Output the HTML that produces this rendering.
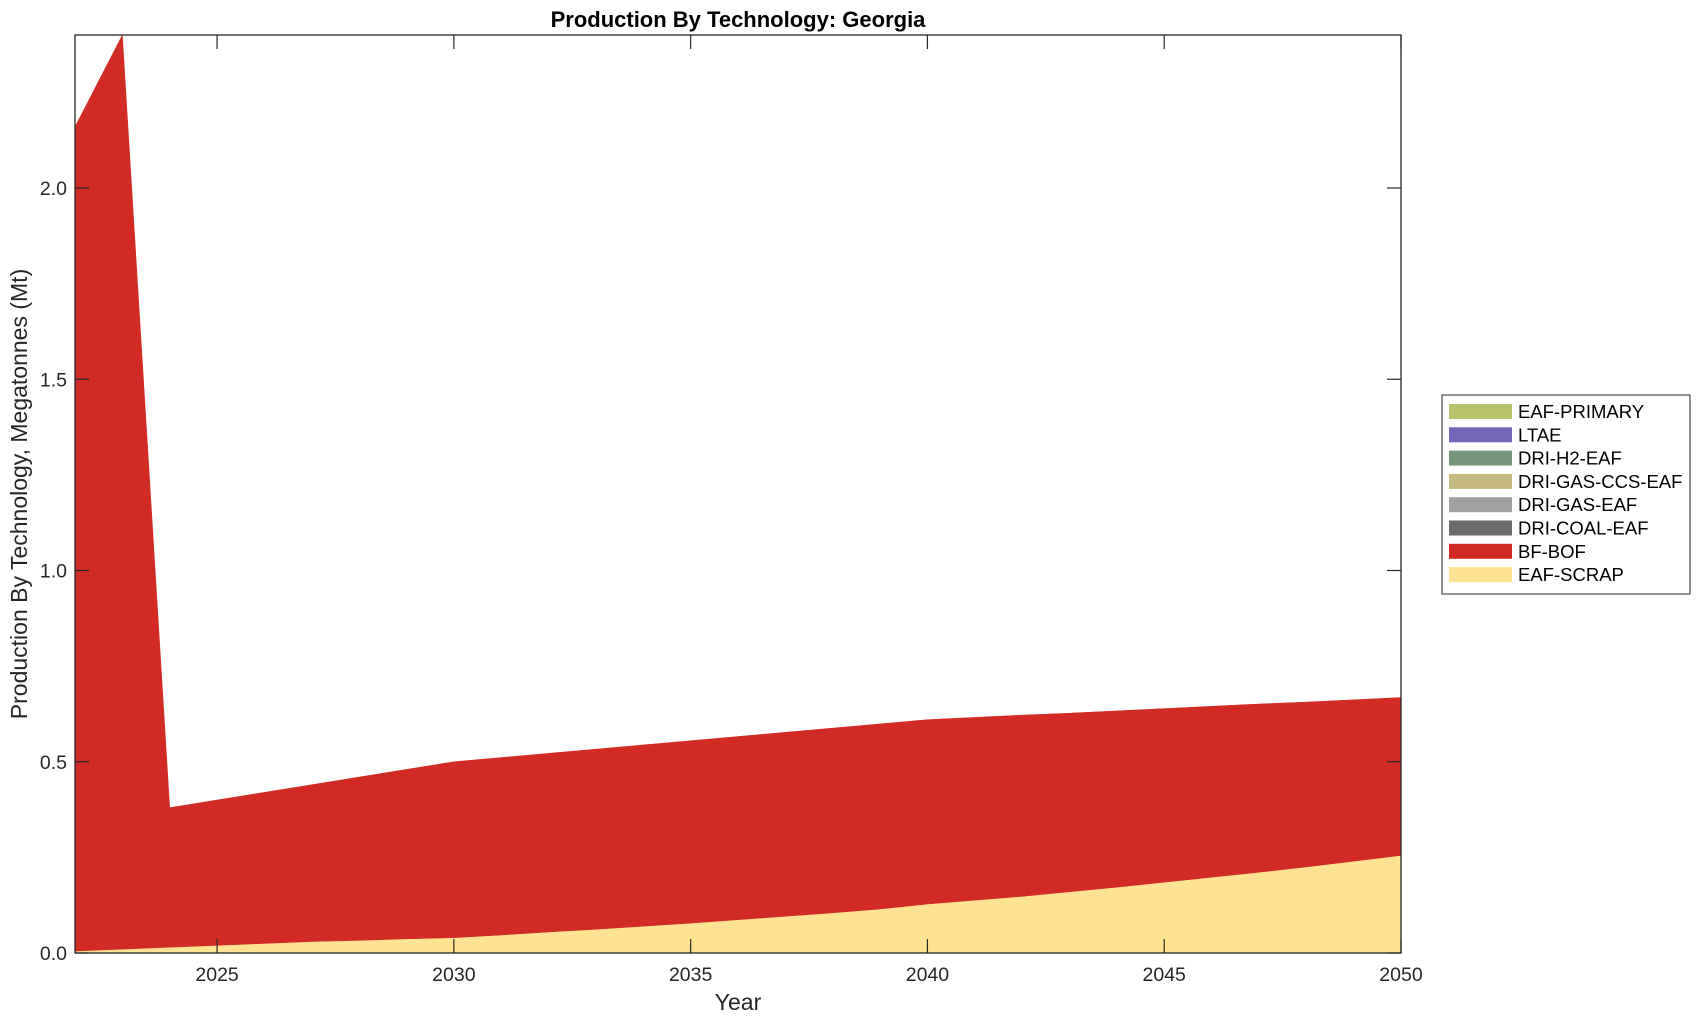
<!DOCTYPE html>
<html><head><meta charset="utf-8">
<style>
html,body{margin:0;padding:0;background:#fff;}
svg text{font-family:"Liberation Sans",Arial,sans-serif;fill:#262626;}
</style></head>
<body>
<svg id="chart" width="1703" height="1021" viewBox="0 0 1703 1021" xmlns="http://www.w3.org/2000/svg">
<text x="738" y="27" text-anchor="middle" font-size="22" font-weight="bold" style="fill:#000">Production By Technology: Georgia</text>
<g id="areas"></g>
<g id="axes"></g>
<text x="738" y="1010" text-anchor="middle" font-size="23">Year</text>
<text transform="translate(27,494) rotate(-90)" text-anchor="middle" font-size="23">Production By Technology, Megatonnes (Mt)</text>
<g id="legend"></g>
</svg>
<script>
const years = [2022,2023,2024,2025,2026,2027,2028,2029,2030,2031,2032,2033,2034,2035,2036,2037,2038,2039,2040,2041,2042,2043,2044,2045,2046,2047,2048,2049,2050];
const eafScrap = [0.005,0.01,0.015,0.02,0.025,0.03,0.033,0.037,0.04,0.047,0.055,0.062,0.07,0.078,0.087,0.096,0.105,0.115,0.128,0.138,0.148,0.16,0.172,0.185,0.198,0.211,0.225,0.24,0.255];
const bfBof = [2.155,2.39,0.365,0.38,0.395,0.41,0.427,0.443,0.46,0.464,0.467,0.471,0.474,0.477,0.479,0.481,0.483,0.484,0.482,0.478,0.474,0.467,0.461,0.454,0.447,0.44,0.431,0.422,0.413];
const yTicks = [0,0.5,1.0,1.5,2.0];
const yTickLabels = ["0.0","0.5","1.0","1.5","2.0"];
const xTicks = [2025,2030,2035,2040,2045,2050];
const legendNames = ["EAF-PRIMARY","LTAE","DRI-H2-EAF","DRI-GAS-CCS-EAF","DRI-GAS-EAF","DRI-COAL-EAF","BF-BOF","EAF-SCRAP"];
const legendColors = ["#B9C46A","#7366B8","#76977A","#C4B97E","#A0A0A0","#6B6B6B","#D22B25","#FFE392"];

const L=75,R=1401,T=35,B=953,X0=2022,X1=2050,Y1=2.4;
const xs=v=>L+(v-X0)/(X1-X0)*(R-L);
const ys=v=>B-v/Y1*(B-T);
const NS="http://www.w3.org/2000/svg";
function mk(tag,attrs,parent){const e=document.createElementNS(NS,tag);for(const k in attrs)e.setAttribute(k,attrs[k]);parent.appendChild(e);return e;}
const areas=document.getElementById('areas');
function band(lower,upper,color,name){
  let d='M'+xs(years[0])+','+ys(upper[0]);
  for(let i=1;i<years.length;i++) d+='L'+xs(years[i])+','+ys(upper[i]);
  for(let i=years.length-1;i>=0;i--) d+='L'+xs(years[i])+','+ys(lower[i]);
  const p=mk('path',{d:d+'Z',fill:color,stroke:color,'stroke-width':0.5},areas);
  
  
}
const zeros=years.map(()=>0);
const top1=eafScrap.slice();
const top2=years.map((_,i)=>eafScrap[i]+bfBof[i]);
band(zeros,top1,"#FFE392","area-eaf-scrap");
band(top1,top2,"#D22B25","area-bf-bof");

const axes=document.getElementById('axes');
mk('rect',{x:L,y:T,width:R-L,height:B-T,fill:'none',stroke:'#262626','stroke-width':1.3},axes);
yTicks.forEach((v,i)=>{
  const y=ys(v);
  mk('line',{x1:L,x2:L+14,y1:y,y2:y,stroke:'#262626','stroke-width':1.2},axes);
  mk('line',{x1:R,x2:R-14,y1:y,y2:y,stroke:'#262626','stroke-width':1.2},axes);
  const t=mk('text',{x:67,y:y+7,'text-anchor':'end','font-size':19.5},axes);
  t.textContent=yTickLabels[i];
  
  
});
xTicks.forEach(v=>{
  const x=xs(v);
  mk('line',{x1:x,x2:x,y1:B,y2:B-14,stroke:'#262626','stroke-width':1.2},axes);
  mk('line',{x1:x,x2:x,y1:T,y2:T+14,stroke:'#262626','stroke-width':1.2},axes);
  const t=mk('text',{x:x,y:981,'text-anchor':'middle','font-size':19.5},axes);
  t.textContent=v;
  
  
});

const lg=document.getElementById('legend');
mk('rect',{x:1442,y:395,width:248,height:199,fill:'#fff',stroke:'#262626','stroke-width':1},lg);
legendNames.forEach((n,i)=>{
  const cy=412+i*23.3;
  const g=mk('g',{},lg);
  
  
  mk('rect',{x:1449,y:cy-8,width:63,height:15,fill:legendColors[i]},g);
  const t=mk('text',{x:1518,y:cy+6,'font-size':18.5,style:'fill:#000'},g);
  t.textContent=n;
});
</script>
</body></html>
